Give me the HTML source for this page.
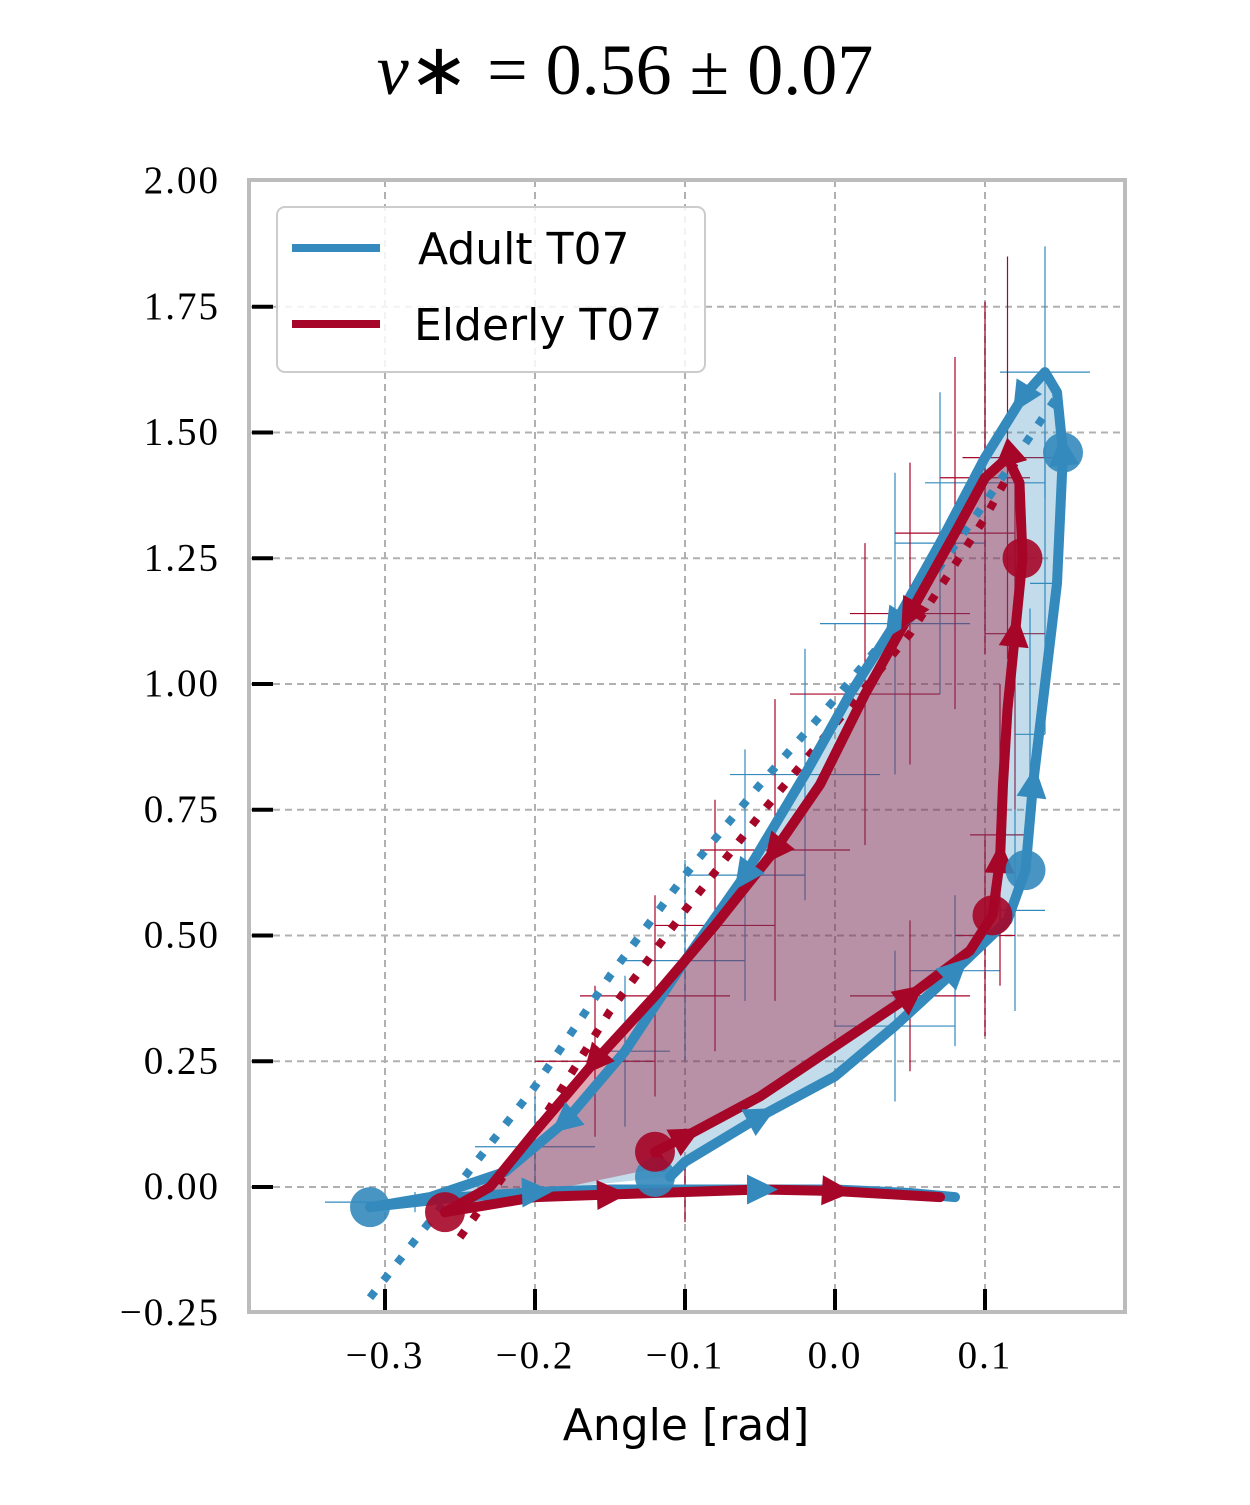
<!DOCTYPE html>
<html><head><meta charset="utf-8"><style>
body{margin:0;background:#fff;}
svg text{font-family:"Liberation Serif",serif;}
</style></head><body>
<svg id="chart" width="1250" height="1500" xmlns="http://www.w3.org/2000/svg">
<text x="625" y="94" text-anchor="middle" font-size="72"><tspan font-style="italic">v</tspan>∗ = 0.56 ± 0.07</text>
<rect x="249" y="180" width="876" height="1132" fill="#fff"/>
<g id="grid"></g>
<g id="errs"></g>
<g id="series"></g>
<rect x="249" y="180" width="876" height="1132" fill="none" stroke="#bcbcbc" stroke-width="4"/>
<g id="ticks"></g>
<text x="686" y="1440" text-anchor="middle" font-size="44" style="font-family:'DejaVu Sans',sans-serif">Angle [rad]</text>
<g>
<rect x="277" y="207" width="428" height="165" rx="8" fill="#fff" fill-opacity="0.85" stroke="#ccc" stroke-width="2"/>
<line x1="292" y1="248" x2="380" y2="248" stroke="#348ABD" stroke-width="8"/>
<text x="418" y="264" font-size="44" style="font-family:'DejaVu Sans',sans-serif">Adult T07</text>
<line x1="292" y1="324" x2="380" y2="324" stroke="#A60628" stroke-width="8"/>
<text x="414" y="340" font-size="44" style="font-family:'DejaVu Sans',sans-serif">Elderly T07</text>
</g>
</svg>
<script>
const xTicks=[-0.3,-0.2,-0.1,0.0,0.1];
const xTickLabels=["\u22120.3","\u22120.2","\u22120.1","0.0","0.1"];
const yTicks=[-0.25,0,0.25,0.5,0.75,1.0,1.25,1.5,1.75,2.0];
const yTickLabels=["\u22120.25","0.00","0.25","0.50","0.75","1.00","1.25","1.50","1.75","2.00"];
const adultLoop=[[-0.11,0.02],[-0.1,0.05],[-0.05,0.14],[0.0,0.22],[0.04,0.32],[0.08,0.43],[0.115,0.53],[0.127,0.63],[0.132,0.8],[0.14,1.0],[0.148,1.2],[0.152,1.46],[0.148,1.58],[0.14,1.62],[0.125,1.57],[0.1,1.45],[0.07,1.28],[0.04,1.12],[0.01,0.98],[-0.02,0.82],[-0.06,0.62],[-0.1,0.45],[-0.14,0.27],[-0.18,0.13],[-0.22,0.03],[-0.27,-0.02],[-0.31,-0.04]];
const adultSwing=[[-0.31,-0.04],[-0.25,-0.02],[-0.2,-0.01],[-0.15,-0.005],[-0.1,-0.005],[-0.05,-0.005],[0.0,-0.005],[0.05,-0.012],[0.08,-0.02]];
const elderLoop=[[-0.115,0.04],[-0.12,0.07],[-0.1,0.1],[-0.05,0.18],[0.0,0.28],[0.05,0.38],[0.09,0.47],[0.105,0.54],[0.11,0.65],[0.112,0.8],[0.115,0.95],[0.12,1.1],[0.125,1.25],[0.123,1.4],[0.115,1.45],[0.1,1.41],[0.08,1.3],[0.05,1.14],[0.02,0.98],[-0.01,0.8],[-0.04,0.67],[-0.08,0.52],[-0.12,0.38],[-0.16,0.25],[-0.2,0.11],[-0.23,0.0],[-0.26,-0.05]];
const elderSwing=[[-0.26,-0.05],[-0.2,-0.02],[-0.15,-0.015],[-0.1,-0.01],[-0.05,-0.005],[0.0,-0.008],[0.04,-0.015],[0.07,-0.02]];
const adultStatic=[[-0.31,-0.22],[-0.26,-0.03],[-0.2,0.2],[-0.15,0.42],[-0.1,0.62],[-0.05,0.8],[0.0,0.97],[0.05,1.15],[0.1,1.36],[0.15,1.58]];
const elderStatic=[[-0.25,-0.1],[-0.2,0.11],[-0.15,0.35],[-0.1,0.55],[-0.05,0.74],[0.0,0.92],[0.05,1.1],[0.1,1.33],[0.12,1.44]];
const adultCircles=[[-0.31,-0.04],[0.152,1.46],[0.127,0.63],[-0.12,0.02]];
const elderCircles=[[-0.26,-0.05],[0.125,1.25],[0.105,0.54],[-0.12,0.07]];
const adultErr=[[0.14,1.62,0.03,0.25],[0.1,1.4,0.04,0.3],[0.07,1.28,0.03,0.3],[0.04,1.12,0.05,0.3],[-0.02,0.82,0.05,0.25],[-0.06,0.62,0.04,0.25],[-0.1,0.45,0.04,0.2],[-0.14,0.27,0.03,0.15],[-0.2,0.08,0.04,0.1],[0.13,0.9,0.01,0.25],[0.14,1.2,0.01,0.3],[0.12,0.55,0.02,0.2],[0.08,0.43,0.03,0.15],[0.04,0.32,0.04,0.15],[-0.28,-0.03,0.06,0.02],[-0.1,0.0,0.02,0.04]];
const elderErr=[[0.115,1.45,0.03,0.4],[0.1,1.41,0.03,0.35],[0.08,1.3,0.04,0.35],[0.05,1.14,0.04,0.3],[0.02,0.98,0.05,0.3],[-0.04,0.67,0.05,0.3],[-0.08,0.52,0.04,0.25],[-0.12,0.38,0.05,0.2],[-0.16,0.25,0.04,0.15],[0.11,0.7,0.02,0.3],[0.12,1.1,0.02,0.35],[0.1,0.5,0.02,0.2],[0.05,0.38,0.04,0.15],[-0.1,-0.01,0.03,0.06]];
const X=v=>835+v*1500, Y=v=>1187-v*503;
const NS="http://www.w3.org/2000/svg";
function mk(tag,attrs,parent){const e=document.createElementNS(NS,tag);for(const k in attrs)e.setAttribute(k,attrs[k]);parent.appendChild(e);return e;}
const grid=document.getElementById('grid'),ticks=document.getElementById('ticks'),ser=document.getElementById('series'),errs=document.getElementById('errs');
xTicks.forEach((t,i)=>{
 const g=mk('line',{x1:X(t),x2:X(t),y1:180,y2:1312,stroke:'#b0b0b0','stroke-width':2,'stroke-dasharray':'7,5'},grid);
 
 
 const tk=mk('line',{x1:X(t),x2:X(t),y1:1289,y2:1310,stroke:'#000','stroke-width':4},ticks);
 
 
 const tl=mk('text',{x:X(t),y:1368,'text-anchor':'middle','font-size':39,'letter-spacing':2},ticks);
 tl.textContent=xTickLabels[i];
 
 
});
yTicks.forEach((t,i)=>{
 if(t>-0.25&&t<2){const g=mk('line',{x1:249,x2:1125,y1:Y(t),y2:Y(t),stroke:'#b0b0b0','stroke-width':2,'stroke-dasharray':'7,5'},grid);
 
 
 const tk=mk('line',{x1:252,x2:273,y1:Y(t),y2:Y(t),stroke:'#000','stroke-width':4},ticks);
 
 }
 const tl=mk('text',{x:220,y:Y(t)+12,'text-anchor':'end','font-size':39,'letter-spacing':2},ticks);
 tl.textContent=yTickLabels[i];
 
 
});
const pts=a=>a.map(p=>X(p[0]).toFixed(1)+','+Y(p[1]).toFixed(1)).join(' ');
function errbars(arr,col){arr.forEach(e=>{
 const v=mk('line',{x1:X(e[0]),x2:X(e[0]),y1:Y(e[1]-e[3]),y2:Y(e[1]+e[3]),stroke:col,'stroke-width':1.2},errs);
 
 
 const h=mk('line',{x1:X(e[0]-e[2]),x2:X(e[0]+e[2]),y1:Y(e[1]),y2:Y(e[1]),stroke:col,'stroke-width':1.2},errs);
 
 
});}
errbars(adultErr,'#348ABD');errbars(elderErr,'#A60628');
let f=mk('polygon',{points:pts(adultLoop),fill:'#348ABD','fill-opacity':0.3},ser);


f=mk('polygon',{points:pts(elderLoop),fill:'#A60628','fill-opacity':0.35},ser);


function line(arr,col,name,dash){const l=mk('polyline',{points:pts(arr),fill:'none',stroke:col,'stroke-width':dash?8:10,'stroke-linejoin':'round','stroke-linecap':dash?'butt':'round'},ser);
 if(dash)l.setAttribute('stroke-dasharray','8,14');
 
 }
line(adultStatic,'#348ABD','adult-static-line',true);
line(elderStatic,'#A60628','elderly-static-line',true);
line(adultLoop,'#348ABD','adult-loop-line');line(adultSwing,'#348ABD','adult-swing-line');
line(elderLoop,'#A60628','elderly-loop-line');line(elderSwing,'#A60628','elderly-swing-line');
function arrows(arr,col,name){for(let i=2;i<arr.length-1;i+=3){const a=arr[i],b=arr[i+1];
 const x=X(a[0]),y=Y(a[1]),ang=Math.atan2(Y(b[1])-y,X(b[0])-x)*180/Math.PI;
 const t=mk('polygon',{points:'18,0 -13,-15 -13,15',fill:col,transform:`translate(${x},${y}) rotate(${ang})`},ser);
 
 }}
arrows(adultLoop,'#348ABD','adult-arrow');arrows(adultSwing,'#348ABD','adult-arrow');
arrows(elderLoop,'#A60628','elderly-arrow');arrows(elderSwing,'#A60628','elderly-arrow');
function circles(arr,col,name){arr.forEach(p=>{const c=mk('circle',{cx:X(p[0]),cy:Y(p[1]),r:20,fill:col,'fill-opacity':0.9},ser);
 
 });}
circles(adultCircles,'#348ABD','adult-event-marker');circles(elderCircles,'#A60628','elderly-event-marker');
</script>
</body></html>
